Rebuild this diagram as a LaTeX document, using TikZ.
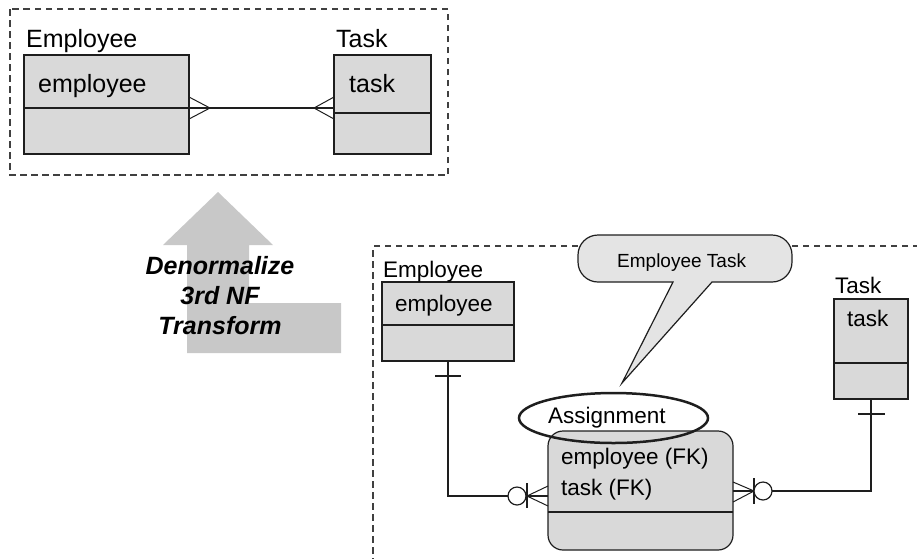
\documentclass[tikz,border=0pt]{standalone}
\usepackage{fontspec}
\setmainfont{Liberation Sans}
\usetikzlibrary{shapes.geometric}
\definecolor{boxfill}{RGB}{217,217,217}
\definecolor{arrowfill}{RGB}{200,200,200}
\definecolor{calloutfill}{RGB}{228,228,228}
\definecolor{ink}{RGB}{30,30,30}
\tikzset{
  erbox/.style={draw=ink, fill=boxfill, line width=1.2pt, inner sep=0pt, outer sep=0pt},
  conn/.style={draw=ink, line width=1.2pt},
  divider/.style={draw=ink, line width=1.2pt},
  frame/.style={draw=ink!85, line width=1.2pt, dash pattern=on 6.5pt off 4.5pt},
  bigtxt/.style={font=\fontsize{25}{30}\selectfont, inner sep=0pt, anchor=base west},
  smalltxt/.style={font=\fontsize{22.5}{27}\selectfont, inner sep=0pt, anchor=base west},
  ring/.style={draw=ink, fill=white, line width=1.2pt},
}
\begin{document}
\begin{tikzpicture}[x=1pt,y=-1pt]
\useasboundingbox (0,0) rectangle (917,558);
\clip (0,0) rectangle (917,558);

% ---------- top frame ----------
\draw[frame] (10,9) rectangle (448,175);

\node[erbox, minimum width=165pt, minimum height=99pt] (E1) at (106.5,104.5) {};
\draw[divider] (24,108) -- (189,108);
\node[bigtxt] (E1lab) at (26,47) {Employee};
\node[bigtxt] (E1att) at (38,92) {employee};

\node[erbox, minimum width=97pt, minimum height=99pt] (T1) at (382.5,104.5) {};
\draw[divider] (334,113) -- (431,113);
\node[bigtxt] (T1lab) at (336,47) {Task};
\node[bigtxt] (T1att) at (349,92) {task};

\coordinate (c1a) at (189,108);
\coordinate (c1b) at (334,108);
\coordinate (f1) at (210,108);
\coordinate (f2) at (314,108);
\draw[conn] (c1a) -- (c1b);
\draw[conn, line width=1pt] (189,97) -- (f1) -- (189,119);
\draw[conn, line width=1pt] (334,97) -- (f2) -- (334,119);

% ---------- transform arrow ----------
\fill[arrowfill] (218,192) -- (273,245) -- (249,245) -- (249,303) -- (341,303)
  -- (341,353) -- (187,353) -- (187,245) -- (163,245) -- cycle;
\node[font=\fontsize{25}{30}\selectfont\bfseries\itshape, align=center, inner sep=0pt]
  (tr) at (220,296) {Denormalize\\3rd NF\\Transform};

% ---------- lower frame ----------
\draw[frame] (930,246) -- (373,246) -- (373,570);

% callout
\draw[draw=ink, fill=calloutfill, line width=1.2pt]
  (712,282) -- (772,282) arc[start angle=90, end angle=0, radius=20]
  -- (792,255) arc[start angle=0, end angle=-90, radius=20]
  -- (598,235) arc[start angle=-90, end angle=-180, radius=20]
  -- (578,262) arc[start angle=180, end angle=90, radius=20]
  -- (673,282) -- (622,383) -- cycle;
\node[font=\fontsize{19}{23}\selectfont, inner sep=0pt, anchor=base west] (ct) at (617,267) {Employee Task};

% Employee (lower)
\node[erbox, minimum width=132pt, minimum height=79pt] (E2) at (448,321.5) {};
\draw[divider] (382,325) -- (514,325);
\node[smalltxt] (E2lab) at (383,277) {Employee};
\node[smalltxt] (E2att) at (395,311) {employee};

% Task (lower)
\node[erbox, minimum width=74pt, minimum height=100pt] (T2) at (871,349) {};
\draw[divider] (834,363) -- (908,363);
\node[smalltxt] (T2lab) at (835,293) {Task};
\node[smalltxt] (T2att) at (847,326) {task};

% Assignment
\node[erbox, rounded corners=15pt, minimum width=185pt, minimum height=119pt] (A) at (640.5,490.5) {};
\draw[divider] (548,512) -- (733,512);
\node[smalltxt] (A1) at (561,464) {employee (FK)};
\node[smalltxt] (A2) at (561,495) {task (FK)};
\node[draw=ink, line width=2.5pt, ellipse, minimum width=189pt, minimum height=50pt, inner sep=0pt] (Aell) at (613.5,418) {};
\node[smalltxt] (Alab) at (548,423) {Assignment};

% left relationship
\coordinate (L1) at (448,496);
\coordinate (Lend) at (548,496);
\coordinate (Lf) at (527,496);
\draw[conn] (E2.south) -- (L1) -- (Lend);
\draw[conn] (435,376) -- (461,376);
\draw[conn] (527,483) -- (527,508);
\draw[conn, line width=1pt] (548,486) -- (Lf) -- (548,506);
\node[ring, circle, minimum size=18pt, inner sep=0pt] (Lc) at (517,496) {};

% right relationship
\coordinate (R1) at (871,491);
\coordinate (Rend) at (733,491);
\coordinate (Rf) at (754,491);
\draw[conn] (T2.south) -- (R1) -- (Rend);
\draw[conn] (858,414) -- (885,414);
\draw[conn] (754,478) -- (754,504);
\draw[conn, line width=1pt] (733,482) -- (Rf) -- (733,502);
\node[ring, circle, minimum size=18pt, inner sep=0pt] (Rc) at (763,491) {};
\end{tikzpicture}
\end{document}
